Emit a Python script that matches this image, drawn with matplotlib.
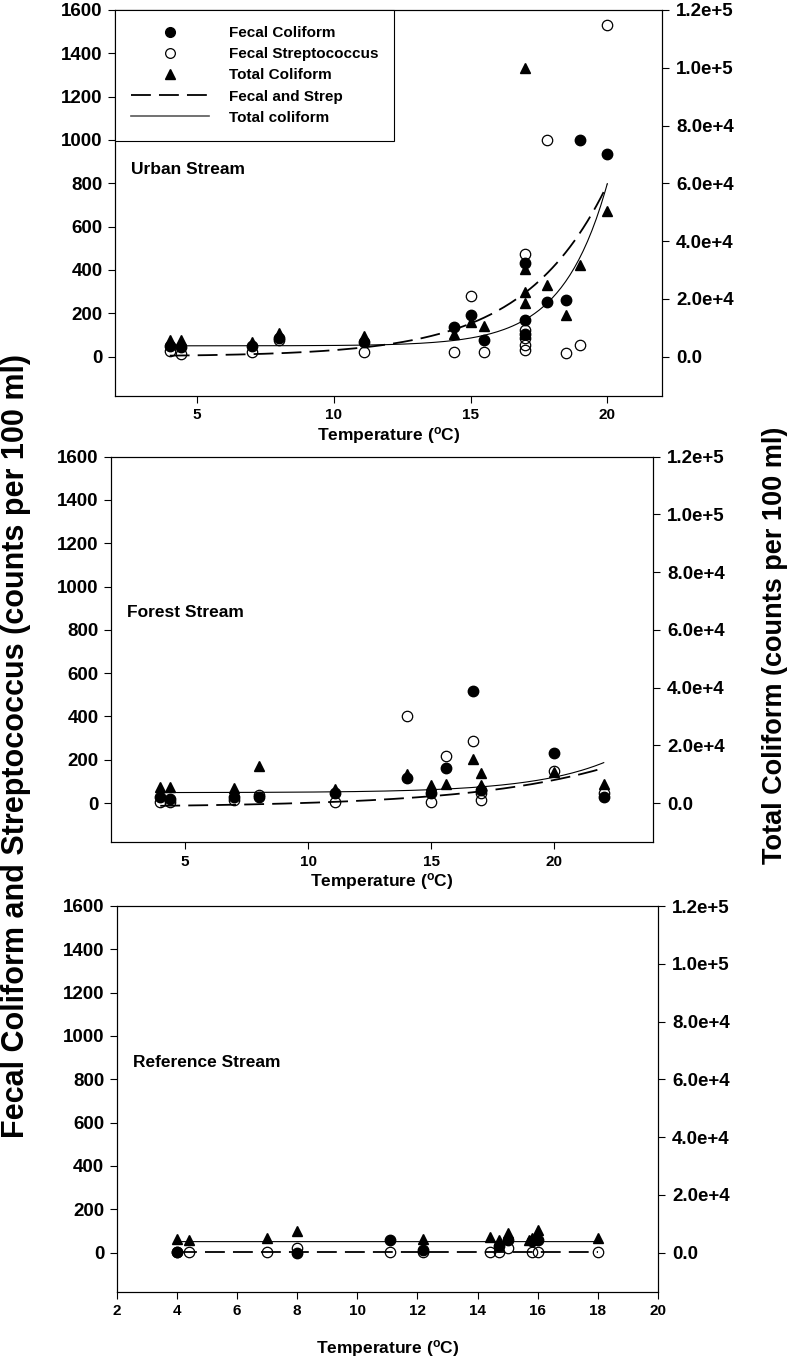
import numpy as np
import matplotlib
matplotlib.use("Agg")
import matplotlib.pyplot as plt
from matplotlib.lines import Line2D

plt.rcParams['font.family'] = ['Liberation Sans', 'DejaVu Sans']
plt.rcParams['font.weight'] = 'bold'
plt.rcParams['axes.linewidth'] = 0.8
plt.rcParams['mathtext.default'] = 'regular'

# ---- Urban stream ----
urban_fc_t = [4, 4.4, 7, 8, 11.1, 14.4, 15, 15.5, 17, 17, 17, 17.8, 18.5, 19, 20]
urban_fc = [50, 46, 50, 85, 65, 135, 194, 74, 170, 430, 105, 250, 260, 1000, 936]
urban_fs_t = [4, 4.4, 7, 8, 11.1, 14.4, 15, 15.5, 17, 17, 17, 17, 17, 17.8, 18.5, 19, 20]
urban_fs = [26, 13, 23, 77, 23, 20, 278, 22, 472, 124, 85, 54, 31, 998, 16, 54, 1530]
urban_tc_t = [4, 4.4, 7, 8, 11.1, 14.4, 15, 15.5, 17, 17, 17, 17, 17, 17.8, 18.5, 19, 20]
urban_tc = [5800, 5800, 5200, 8100, 7000, 7900, 12000, 10400, 100000, 30400, 22400,
            18600, 7900, 24700, 14500, 31700, 50300]
# exponential fits: y0 + a*exp(b*T)
urban_fs_fit = (0.0, 1.08, 0.33)
urban_tc_fit = (3700.0, 0.30, 0.607)
urban_range = (4, 20)

# ---- Forest stream ----
forest_fc_t = [4, 4.4, 7, 8, 11.1, 14, 15, 15.6, 16.7, 17, 20, 22]
forest_fc = [30, 20, 30, 30, 46, 115, 46, 164, 518, 60, 231, 30]
forest_fs_t = [4, 4.4, 7, 8, 11.1, 14, 15, 15.6, 16.7, 17, 17, 20, 22]
forest_fs = [7, 7, 15, 35, 7, 400, 7, 215, 288, 46, 15, 146, 46]
forest_tc_t = [4, 4.4, 7, 8, 11.1, 14, 15, 15.6, 16.7, 17, 17, 20, 22]
forest_tc = [5700, 5700, 5200, 12700, 4950, 10000, 6300, 6700, 15200, 10400, 6300, 10900, 6700]
forest_fs_fit = (-20.0, 3.46, 0.18)
forest_tc_fit = (3600.0, 7.31, 0.33)
forest_range = (4, 22)

# ---- Reference stream ----
ref_fc_t = [4, 8, 11.1, 12.2, 14.7, 15, 15.8, 16]
ref_fc = [5, 0, 59, 10, 30, 60, 55, 60]
ref_fs_t = [4, 4.4, 7, 8, 11.1, 12.2, 14.4, 14.7, 15, 15.8, 16, 18]
ref_fs = [2, 2, 2, 20, 2, 5, 2, 2, 20, 2, 2, 2]
ref_tc_t = [4, 4.4, 7, 8, 12.2, 14.4, 14.7, 15, 15.7, 15.8, 16, 18]
ref_tc = [4600, 4200, 5000, 7600, 4700, 5500, 4400, 6700, 4400, 5000, 7900, 5000]
ref_fs_fit = (0.0, 2.0, 0.0)
ref_tc_fit = (3800.0, 0.036, 0.245)
ref_range = (4, 18)

left_ticks = [0, 200, 400, 600, 800, 1000, 1200, 1400, 1600]
right_ticks = [0, 20000, 40000, 60000, 80000, 100000, 120000]
right_labels = ["0.0", "2.0e+4", "4.0e+4", "6.0e+4", "8.0e+4", "1.0e+5", "1.2e+5"]

W, H = 790, 1366
fig = plt.figure(figsize=(W / 100, H / 100), dpi=100)


def fit_curve(params, rng):
    y0, a, b = params
    t = np.linspace(rng[0], rng[1], 200)
    return t, y0 + a * np.exp(b * t)


def panel(box, title, title_y, xlim, xticks, fc_t, fc, fs_t, fs, tc_t, tc, fs_fit, tc_fit,
          rng, xlabel_pad, legend=False):
    l, t, r, b = box
    ax = fig.add_axes([l / W, 1 - b / H, (r - l) / W, (b - t) / H])
    ax2 = ax.twinx()
    ax.set_ylim(-180, 1600)
    ax2.set_ylim(-180 * 75, 1600 * 75)
    ax.set_xlim(*xlim)

    ax.plot(fc_t, fc, 'o', ms=7.5, mfc='black', mec='black', zorder=3)
    ax.plot(fs_t, fs, 'o', ms=7.5, mfc='none', mec='black', mew=0.9, zorder=3)
    tx, ty = fit_curve(fs_fit, rng)
    ax.plot(tx, ty, color='black', lw=1.3, dashes=(11, 4.5), zorder=2)
    ax2.plot(tc_t, tc, '^', ms=7.5, color='black', zorder=3)
    tx, ty = fit_curve(tc_fit, rng)
    ax2.plot(tx, ty, color='black', lw=0.8, zorder=2)

    ax.set_yticks(left_ticks)
    ax.set_xticks(xticks)
    ax2.set_yticks(right_ticks)
    ax2.set_yticklabels(right_labels)
    ax.tick_params(axis='y', direction='out', length=5, width=0.8, labelsize=13.5, pad=4)
    ax.tick_params(axis='x', direction='out', length=5, width=0.8, labelsize=11, pad=4)
    ax2.tick_params(axis='y', direction='out', length=5, width=0.8, labelsize=13.5, pad=5)
    ax.set_xlabel("Temperature ($^{o}$C)", fontsize=12.5, fontweight='bold',
                  labelpad=xlabel_pad)
    ax.text(0.03, title_y, title, transform=ax.transAxes, fontsize=12.5,
            fontweight='bold', va='center', ha='left')

    if legend:
        handles = [
            Line2D([], [], ls='none', marker='o', ms=7, mfc='black', mec='black'),
            Line2D([], [], ls='none', marker='o', ms=7, mfc='white', mec='black', mew=0.9),
            Line2D([], [], ls='none', marker='^', ms=7, color='black'),
            Line2D([], [], color='black', lw=1.3, dashes=(11, 4.5)),
            Line2D([], [], color='0.35', lw=1.2),
        ]
        labels = ["Fecal Coliform", "Fecal Streptococcus", "Total Coliform",
                  "Fecal and Strep", "Total coliform"]
        leg = ax2.legend(handles, labels, loc='upper left', bbox_to_anchor=(0, 1),
                         borderaxespad=0, fancybox=False, framealpha=1,
                         edgecolor='black', handlelength=5.1,
                         handletextpad=1.3, borderpad=1.05, labelspacing=0.47,
                         prop={'weight': 'bold', 'size': 11})
        leg.get_frame().set_linewidth(0.8)
    return ax


panel((115, 10, 662, 395.5), "Urban Stream", 0.585, (2, 22), [5, 10, 15, 20],
      urban_fc_t, urban_fc, urban_fs_t, urban_fs, urban_tc_t, urban_tc,
      urban_fs_fit, urban_tc_fit, urban_range, 2, legend=True)
panel((111, 456.7, 653, 842), "Forest Stream", 0.595, (2, 24), [5, 10, 15, 20],
      forest_fc_t, forest_fc, forest_fs_t, forest_fs, forest_tc_t, forest_tc,
      forest_fs_fit, forest_tc_fit, forest_range, 2)
panel((116.7, 906, 658, 1291.6), "Reference Stream", 0.595, (2, 20), list(range(2, 21, 2)),
      ref_fc_t, ref_fc, ref_fs_t, ref_fs, ref_tc_t, ref_tc,
      ref_fs_fit, ref_tc_fit, ref_range, 14)

fig.text(16 / W, 1 - 746 / H, "Fecal Coliform and Streptococcus (counts per 100 ml)",
         rotation=90, ha='center', va='center', fontsize=22, fontweight='bold')
fig.text(775 / W, 1 - 645 / H, "Total Coliform (counts per 100 ml)",
         rotation=90, ha='center', va='center', fontsize=19.5, fontweight='bold')

fig.savefig("out.png", dpi=100)
